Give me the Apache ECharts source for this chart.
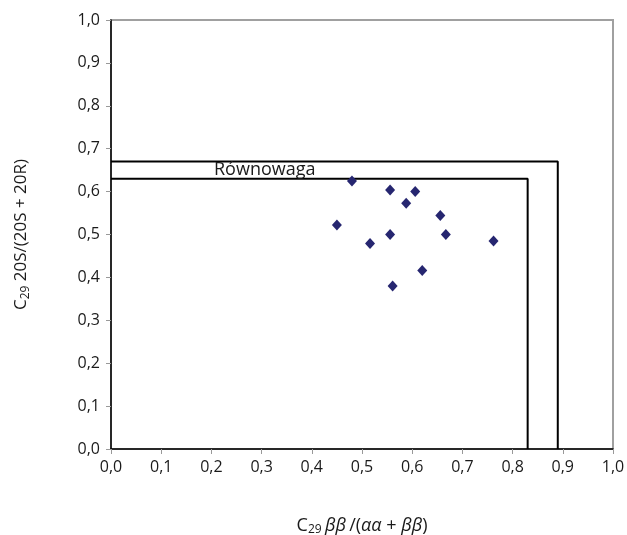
<!DOCTYPE html>
<html><head><meta charset="utf-8">
<script src="https://cdn.jsdelivr.net/npm/echarts@6/dist/echarts.min.js"></script>
<style>html,body{margin:0;padding:0;background:#fff}#c{width:627px;height:535px}</style>
</head><body><div id="c"></div>
<script>
const xTicks = [0,0.1,0.2,0.3,0.4,0.5,0.6,0.7,0.8,0.9,1.0];
const yTicks = [0,0.1,0.2,0.3,0.4,0.5,0.6,0.7,0.8,0.9,1.0];
const sampleX = [0.480,0.556,0.606,0.588,0.656,0.450,0.556,0.667,0.516,0.762,0.620,0.561];
const sampleY = [0.625,0.604,0.600,0.573,0.544,0.522,0.500,0.500,0.479,0.485,0.416,0.380];
const eqLowX = [0, 0.83, 0.83];
const eqLowY = [0.63, 0.63, 0];
const eqHighX = [0, 0.89, 0.89];
const eqHighY = [0.67, 0.67, 0];
const labelText = 'Równowaga';

const FONT = 'Open Sans';
const zip = (a,b) => a.map((v,i)=>[v,b[i]]);
const chart = echarts.init(document.getElementById('c'));
chart.setOption({
  animation:false,
  backgroundColor:'#fff',
  grid:{left:111,right:14,top:20,bottom:86,show:true,borderColor:'#a0a0a0',borderWidth:2,backgroundColor:'#fff',containLabel:false,outerBoundsMode:'none'},
  xAxis:{type:'value',min:0,max:1,interval:0.1,
    axisLine:{show:true,onZero:false,lineStyle:{color:'#000',width:1.5}},
    axisTick:{show:true,length:5,lineStyle:{color:'#999'}},
    splitLine:{show:false},
    axisLabel:{margin:10,fontFamily:FONT,fontSize:16,color:'#1a1a1a',formatter:v=>v.toFixed(1).replace('.',',')},
    name:'{c|C}{s|29} {i|ββ} {c|/(}{i|αα}{c| + }{i|ββ}{c|)}',nameLocation:'middle',nameGap:66,
    nameTextStyle:{rich:{c:{fontFamily:FONT,fontSize:18,color:'#1a1a1a'},s:{fontFamily:FONT,fontSize:12,color:'#1a1a1a',padding:[9,0,0,0]},i:{fontFamily:FONT,fontSize:18,fontStyle:'italic',color:'#1a1a1a'}}}
  },
  yAxis:{type:'value',min:0,max:1,interval:0.1,
    axisLine:{show:true,onZero:false,lineStyle:{color:'#000',width:1.5}},
    axisTick:{show:true,length:5,lineStyle:{color:'#999'}},
    splitLine:{show:false},
    axisLabel:{margin:11,fontFamily:FONT,fontSize:16,color:'#1a1a1a',formatter:v=>v.toFixed(1).replace('.',',')},
    name:'{c|C}{s|29}{c| 20S/(20S + 20R)}',nameLocation:'middle',nameGap:79,
    nameTextStyle:{rich:{c:{fontFamily:FONT,fontSize:17,color:'#1a1a1a'},s:{fontFamily:FONT,fontSize:12,color:'#1a1a1a',padding:[9,0,0,0]}}}
  },
  graphic:[{type:'text',left:214,top:161,z:10,style:{text:labelText,fontFamily:FONT,fontSize:18,fill:'#1a1a1a'}}],
  series:[
    {type:'line',data:zip(eqHighX,eqHighY),symbol:'none',lineStyle:{color:'#000',width:2},z:3},
    {type:'line',data:zip(eqLowX,eqLowY),symbol:'none',lineStyle:{color:'#000',width:2},z:3},
    {type:'scatter',data:zip(sampleX,sampleY),symbol:'diamond',symbolSize:[10,11],itemStyle:{color:'#262670',opacity:1},z:5}
  ]
});
</script></body></html>
